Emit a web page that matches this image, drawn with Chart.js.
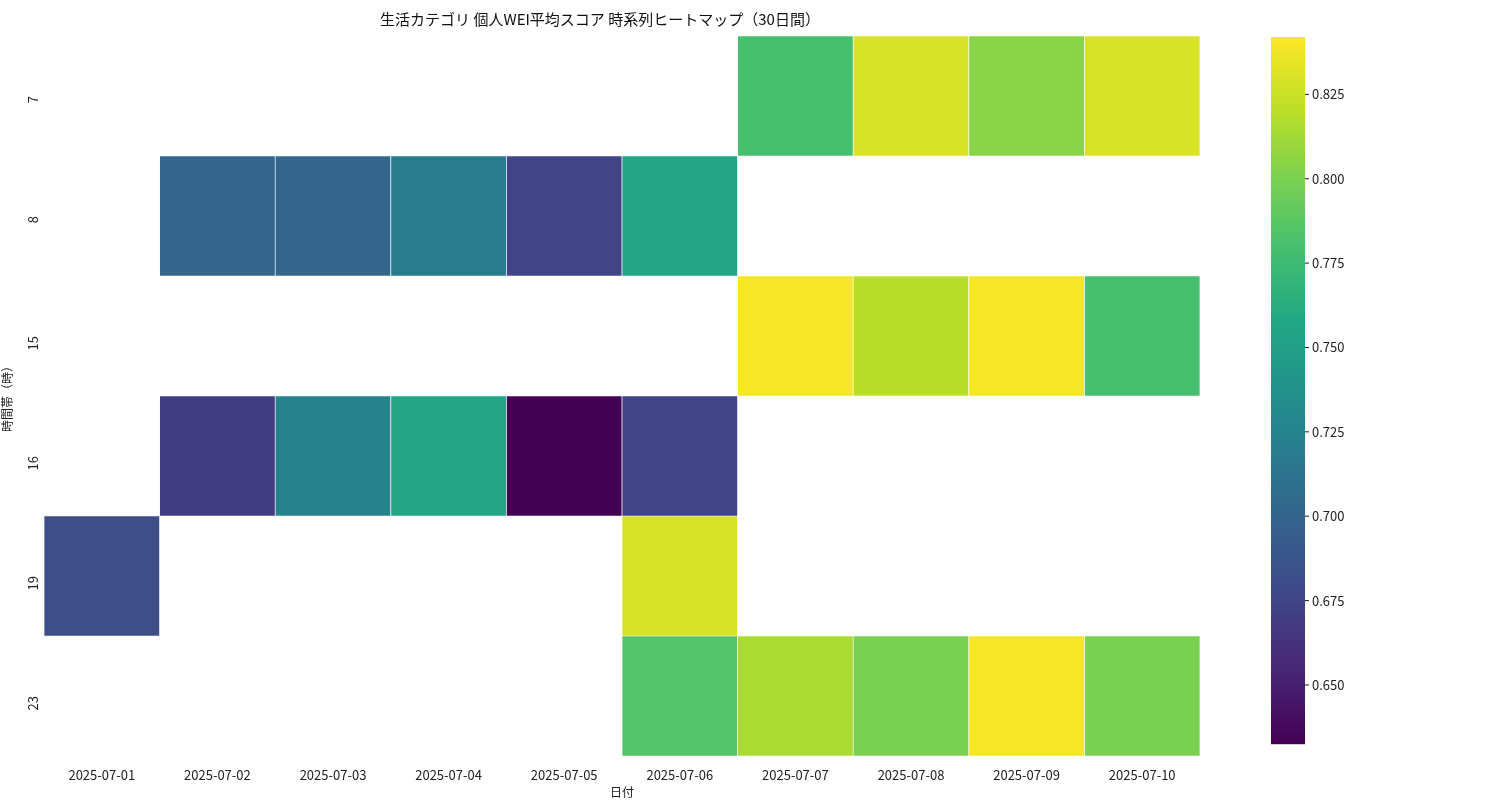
<!DOCTYPE html>
<html><head><meta charset="utf-8">
<script src="https://cdn.jsdelivr.net/npm/chart.js@4/dist/chart.umd.min.js"></script>
<style>body{margin:0;background:#fff}#w{width:1500px;height:800px}</style>
</head><body><div id="w"><canvas id="c"></canvas></div>
<script>
const dates=["2025-07-01","2025-07-02","2025-07-03","2025-07-04","2025-07-05","2025-07-06","2025-07-07","2025-07-08","2025-07-09","2025-07-10"];
const hours=["7","8","15","16","19","23"];
const row7 =[null,null,null,null,null,null,0.780,0.830,0.805,0.830];
const row8 =[null,0.700,0.700,0.720,0.675,0.755,null,null,null,null];
const row15=[null,null,null,null,null,null,0.840,0.820,0.840,0.780];
const row16=[null,0.670,0.725,0.755,0.632,0.675,null,null,null,null];
const row19=[0.682,null,null,null,null,0.830,null,null,null,null];
const row23=[null,null,null,null,null,0.785,0.815,0.800,0.840,0.800];
const rows=[row7,row8,row15,row16,row19,row23];
const vmin=0.6325,vmax=0.842;
const cbTicks=[0.650,0.675,0.700,0.725,0.750,0.775,0.800,0.825];
const VS=[[68,1,84],[72,36,117],[65,68,135],[53,95,141],[42,120,142],[33,145,140],[34,168,132],[68,191,112],[122,209,81],[189,223,38],[253,231,37]];
function viridis(t){t=Math.max(0,Math.min(1,t));const s=t*(VS.length-1),i=Math.min(Math.floor(s),VS.length-2),f=s-i;
const c=VS[i].map((v,k)=>Math.round(v+(VS[i+1][k]-v)*f));return `rgb(${c[0]},${c[1]},${c[2]})`;}
const datasets=rows.map((r,ri)=>({data:r.map(v=>v==null?null:[ri-0.5,ri+0.5]),
 backgroundColor:r.map(v=>v==null?'rgba(0,0,0,0)':viridis((v-vmin)/(vmax-vmin))),
 borderColor:'#fff',borderWidth:0.7,borderSkipped:false,grouped:false,categoryPercentage:1,barPercentage:1}));
const FONT='"Noto Sans CJK JP","DejaVu Sans",sans-serif';
const cbPlugin={id:'cb',afterDraw(ch){const g=ch.ctx,x=1271,w=34,top=37,bot=744;
 for(let y=top;y<bot;y++){g.fillStyle=viridis(1-(y-top)/(bot-top));g.fillRect(x,y,w,1.2);}
 g.fillStyle='#222';g.strokeStyle='#222';g.font='13px '+FONT;g.textBaseline='middle';g.textAlign='left';
 cbTicks.forEach(v=>{const y=bot-(v-vmin)/(vmax-vmin)*(bot-top);g.beginPath();g.moveTo(x+w,y);g.lineTo(x+w+4,y);g.stroke();g.fillText(v.toFixed(3),x+w+7,y);});}};
new Chart(document.getElementById('c'),{type:'bar',data:{labels:dates,datasets},
options:{responsive:true,maintainAspectRatio:false,animation:false,
 layout:{padding:{top:0,right:300,bottom:0,left:0}},
 plugins:{legend:{display:false},tooltip:{enabled:false},
  title:{display:true,text:'生活カテゴリ 個人WEI平均スコア 時系列ヒートマップ（30日間）',color:'#111',font:{family:FONT,size:15,weight:'normal'},padding:{top:10,bottom:8}}},
 scales:{x:{grid:{display:false},border:{display:false},ticks:{color:'#222',font:{family:FONT,size:13},maxRotation:0},
   title:{display:true,text:'日付',color:'#222',font:{family:FONT,size:12},padding:0}},
  y:{type:'linear',reverse:true,min:-0.5,max:5.5,grid:{display:false},border:{display:false},
   afterBuildTicks(a){a.ticks=hours.map((h,i)=>({value:i}));},
   ticks:{color:'#222',font:{family:FONT,size:13},minRotation:90,maxRotation:90,callback:(v)=>hours[v]},
   title:{display:true,text:'時間帯（時）',color:'#222',font:{family:FONT,size:12},padding:0}}}},
plugins:[cbPlugin]});
</script></body></html>
